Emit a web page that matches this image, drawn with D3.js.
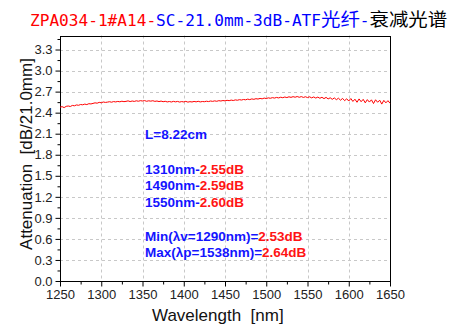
<!DOCTYPE html>
<html>
<head>
<meta charset="utf-8">
<script src="https://cdn.jsdelivr.net/npm/d3@7"></script>
<style>
  html, body { margin: 0; padding: 0; background: #fff; }
  svg { display: block; }
</style>
</head>
<body>
<svg id="chart" width="457" height="334"></svg>
<script>
// ---------- data ----------
const wlStart = 1250, wlStep = 2.5;
const attenuation = [
  2.478, 2.486, 2.472, 2.490, 2.495, 2.488, 2.503, 2.498,
  2.510, 2.505, 2.516, 2.512, 2.522, 2.515, 2.528, 2.524,
  2.532, 2.540, 2.535, 2.547, 2.541, 2.552, 2.546, 2.550,
  2.556, 2.549, 2.558, 2.553, 2.560, 2.555, 2.563, 2.557,
  2.561, 2.568, 2.558, 2.566, 2.560, 2.569, 2.563, 2.571,
  2.566, 2.572, 2.562, 2.569, 2.564, 2.570, 2.561, 2.566,
  2.558, 2.565, 2.556, 2.562, 2.553, 2.559, 2.552, 2.561,
  2.554, 2.560, 2.551, 2.558, 2.553, 2.561, 2.550, 2.557,
  2.552, 2.560, 2.554, 2.562, 2.553, 2.559, 2.556, 2.563,
  2.558, 2.566, 2.561, 2.568, 2.562, 2.571, 2.566, 2.573,
  2.568, 2.576, 2.571, 2.579, 2.573, 2.582, 2.577, 2.585,
  2.580, 2.588, 2.583, 2.593, 2.586, 2.596, 2.590, 2.599,
  2.594, 2.603, 2.597, 2.608, 2.601, 2.611, 2.605, 2.614,
  2.608, 2.617, 2.610, 2.620, 2.613, 2.623, 2.615, 2.626,
  2.618, 2.628, 2.620, 2.630, 2.619, 2.629, 2.617, 2.627,
  2.615, 2.626, 2.611, 2.624, 2.608, 2.622, 2.605, 2.619,
  2.600, 2.618, 2.596, 2.612, 2.590, 2.610, 2.585, 2.606,
  2.578, 2.603, 2.571, 2.598, 2.566, 2.601, 2.560, 2.592,
  2.548, 2.596, 2.556, 2.590, 2.540, 2.586, 2.551, 2.583,
  2.530, 2.584, 2.548, 2.578, 2.522, 2.575, 2.540, 2.571,
  2.535
];
const xTicks = [1250, 1300, 1350, 1400, 1450, 1500, 1550, 1600, 1650];
const xMinorTicks = [1275, 1325, 1375, 1425, 1475, 1525, 1575, 1625];
const yTicks = [0.0, 0.3, 0.6, 0.9, 1.2, 1.5, 1.8, 2.1, 2.4, 2.7, 3.0, 3.3];
const yMinorTicks = [0.15, 0.45, 0.75, 1.05, 1.35, 1.65, 1.95, 2.25, 2.55, 2.85, 3.15, 3.45];
const titleParts = [
  { text: "ZPA034-1#A14-", color: "#ff0000", cjk: false },
  { text: "SC-21.0mm-3dB-ATF", color: "#0000ff", cjk: false },
  { text: "光纤", color: "#0000ff", cjk: true },
  { text: "-", color: "#0000ff", cjk: false },
  { text: "衰减光谱", color: "#000000", cjk: true }
];
const lengthNote = "L=8.22cm";
const pointNotes = [
  { label: "1310nm-", value: "2.55dB" },
  { label: "1490nm-", value: "2.59dB" },
  { label: "1550nm-", value: "2.60dB" }
];
const extremeNotes = [
  { label: "Min(λv=1290nm)=", value: "2.53dB" },
  { label: "Max(λp=1538nm)=", value: "2.64dB" }
];
const xLabel = "Wavelength  [nm]";
const yLabel = "Attenuation  [dB/21.0mm]";

// ---------- layout ----------
const svg = d3.select("#chart");
const L = 60, R = 390, T = 35.5, B = 281;
const x = d3.scaleLinear().domain([1250, 1650]).range([L, R]);
const y = d3.scaleLinear().domain([0, 3.5]).range([B, T]);

const series = attenuation.map((v, i) => ({ wl: wlStart + i * wlStep, v }));

// grid
const grid = svg.append("g").attr("stroke", "#c8c8c8").attr("stroke-width", 1)
  .attr("stroke-dasharray", "3,3");
grid.selectAll("line.gx").data(xTicks.slice(1, -1)).join("line")
  .attr("x1", d => Math.round(x(d)) + 0.5).attr("x2", d => Math.round(x(d)) + 0.5)
  .attr("y1", T).attr("y2", B);
grid.selectAll("line.gy").data(yTicks.slice(1)).join("line")
  .attr("y1", d => Math.round(y(d)) + 0.5).attr("y2", d => Math.round(y(d)) + 0.5)
  .attr("x1", L).attr("x2", R);

// axes
const fontAxis = "'Liberation Sans', Arial, sans-serif";
const xAxis = svg.append("g").attr("transform", `translate(0,${Math.round(B) + 0.5})`)
  .call(d3.axisBottom(x).tickValues(xTicks).tickSize(5).tickPadding(3).tickFormat(d3.format("d")));
const xAxisMinor = svg.append("g").attr("transform", `translate(0,${Math.round(B) + 0.5})`)
  .call(d3.axisBottom(x).tickValues(xMinorTicks).tickSize(3).tickFormat(""));
const yAxis = svg.append("g").attr("transform", `translate(${L + 0.5},0)`)
  .call(d3.axisLeft(y).tickValues(yTicks).tickSize(5).tickPadding(3).tickFormat(d3.format(".1f")));
const yAxisMinor = svg.append("g").attr("transform", `translate(${L + 0.5},0)`)
  .call(d3.axisLeft(y).tickValues(yMinorTicks).tickSize(3).tickFormat(""));
[xAxis, xAxisMinor, yAxis, yAxisMinor].forEach(g => {
  g.select(".domain").remove();
  g.selectAll("line").attr("stroke", "#000");
  g.selectAll("text").attr("font-family", fontAxis).attr("font-size", 13).attr("fill", "#222");
});

// frame
svg.append("rect").attr("x", L + 0.5).attr("y", Math.round(T) + 0.5)
  .attr("width", R - L).attr("height", Math.round(B) - Math.round(T))
  .attr("fill", "none").attr("stroke", "#000").attr("stroke-width", 1);

// curve
svg.append("path").datum(series)
  .attr("fill", "none").attr("stroke", "#ff0000").attr("stroke-width", 1)
  .attr("d", d3.line().x(d => x(d.wl)).y(d => y(d.v)));

// axis labels
svg.append("text").attr("x", 152).attr("y", 321)
  .attr("font-family", fontAxis).attr("font-size", 17).attr("fill", "#111")
  .style("white-space", "pre").text(xLabel);
svg.append("text").attr("transform", "translate(32,154) rotate(-90)")
  .attr("text-anchor", "middle")
  .attr("font-family", fontAxis).attr("font-size", 17).attr("fill", "#111")
  .style("white-space", "pre").text(yLabel);

// title
const unit = 9.7;
let tx = 30;
titleParts.forEach(p => {
  const len = [...p.text].reduce((s, c) => s + (c.charCodeAt(0) > 255 ? 2 : 1), 0) * unit;
  svg.append("text").attr("x", tx).attr("y", 26)
    .attr("font-family", p.cjk ? "'Noto Sans CJK SC', sans-serif" : "'DejaVu Sans Mono', monospace")
    .attr("font-size", p.cjk ? 18 : 16)
    .attr("fill", p.color)
    .attr("textLength", len).attr("lengthAdjust", "spacingAndGlyphs")
    .text(p.text);
  tx += len;
});

// annotations
const fontNote = "'Liberation Sans', Arial, sans-serif";
const noteSize = 13.5;
const blue = "#1414ff", red = "#ff1414";
svg.append("text").attr("x", 145).attr("y", 139)
  .attr("font-family", fontNote).attr("font-size", noteSize).attr("font-weight", "bold")
  .attr("fill", blue).text(lengthNote);
pointNotes.forEach((n, i) => {
  const t = svg.append("text").attr("x", 145).attr("y", 174 + i * 16.3)
    .attr("font-family", fontNote).attr("font-size", noteSize).attr("font-weight", "bold");
  t.append("tspan").attr("fill", blue).text(n.label);
  t.append("tspan").attr("fill", red).text(n.value);
});
extremeNotes.forEach((n, i) => {
  const t = svg.append("text").attr("x", 145).attr("y", 241 + i * 16.3)
    .attr("font-family", fontNote).attr("font-size", noteSize).attr("font-weight", "bold");
  t.append("tspan").attr("fill", blue).text(n.label);
  t.append("tspan").attr("fill", red).text(n.value);
});
</script>
</body>
</html>
